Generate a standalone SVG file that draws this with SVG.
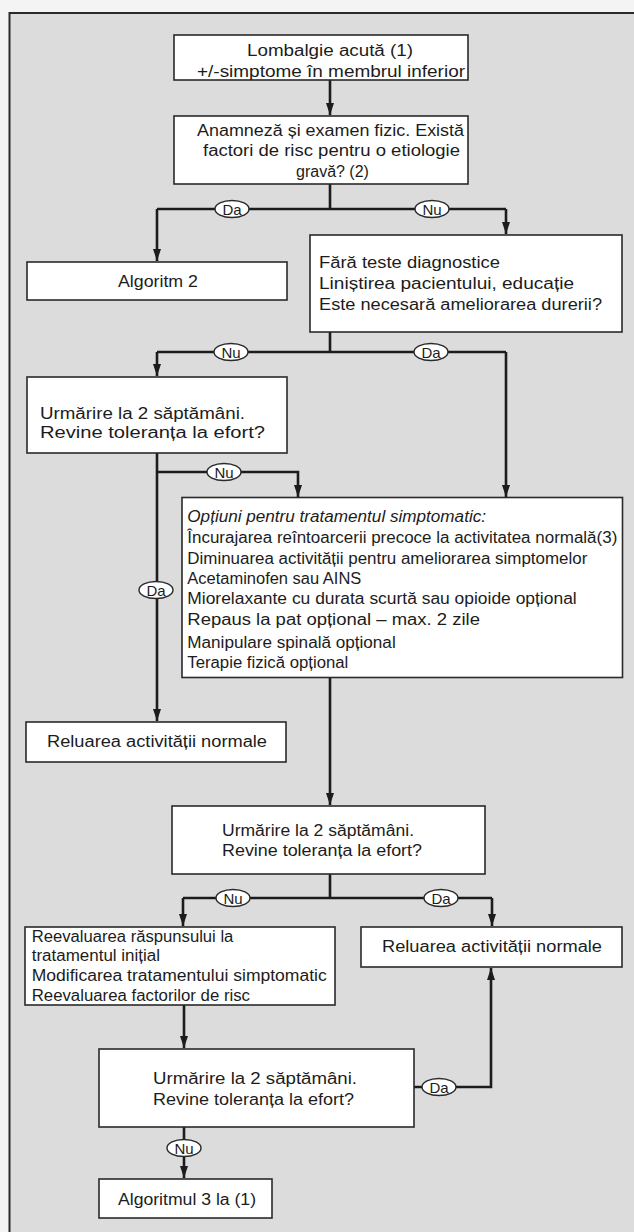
<svg xmlns="http://www.w3.org/2000/svg" width="634" height="1232" viewBox="0 0 634 1232">
  <style>
    .box { fill: #ffffff; stroke: #2a2a2a; stroke-width: 1.6; }
    .t { font-family: "Liberation Sans", Arial, sans-serif; font-size: 16px; fill: #1c1c1c; }
    .c { text-anchor: middle; }
    .it { font-style: italic; }
    .wire { fill: none; stroke: #1c1c1c; stroke-width: 2.6; }
    .lbl { fill: #ffffff; stroke: #2a2a2a; stroke-width: 1.4; }
    .lt { font-family: "Liberation Sans", Arial, sans-serif; font-size: 15px; fill: #1c1c1c; text-anchor: middle; }
  </style>
  <defs>
    <marker id="arrow" markerUnits="userSpaceOnUse" markerWidth="8" markerHeight="12" viewBox="0 0 8 12" refX="4" refY="12" orient="0">
      <path d="M0,0 L8,0 L4,12 z" fill="#1c1c1c"/>
    </marker>
    <marker id="arrowUp" markerUnits="userSpaceOnUse" markerWidth="8" markerHeight="12" viewBox="0 0 8 12" refX="4" refY="0" orient="0">
      <path d="M0,12 L8,12 L4,0 z" fill="#1c1c1c"/>
    </marker>
  </defs>

  <!-- page frame -->
  <rect x="0" y="0" width="634" height="1232" fill="#f4f4f4"/>
  <rect x="9.5" y="13" width="625" height="1220" fill="#dcdcdc"/>
  <path d="M9.5,1232 L9.5,13 L634,13" fill="none" stroke="#2a2a2a" stroke-width="2"/>

  <!-- connectors -->
  <g id="connectors">
    <path class="wire" d="M330,80 L330,115" marker-end="url(#arrow)"/>
    <path class="wire" d="M330,184 L330,209 M157,209 L506,209"/>
    <path class="wire" d="M157,209 L157,261" marker-end="url(#arrow)"/>
    <path class="wire" d="M506,209 L506,234" marker-end="url(#arrow)"/>
    <path class="wire" d="M330,332 L330,352 M157,352 L506,352"/>
    <path class="wire" d="M157,352 L157,376" marker-end="url(#arrow)"/>
    <path class="wire" d="M506,352 L506,497" marker-end="url(#arrow)"/>
    <path class="wire" d="M157,453 L157,721" marker-end="url(#arrow)"/>
    <path class="wire" d="M157,472 L298,472 L298,497" marker-end="url(#arrow)"/>
    <path class="wire" d="M330,678 L330,805" marker-end="url(#arrow)"/>
    <path class="wire" d="M330,874 L330,898 M183,898 L492,898"/>
    <path class="wire" d="M183,898 L183,926" marker-end="url(#arrow)"/>
    <path class="wire" d="M492,898 L492,926" marker-end="url(#arrow)"/>
    <path class="wire" d="M184,1005 L184,1048" marker-end="url(#arrow)"/>
    <path class="wire" d="M414,1087 L491,1087 L491,968" marker-end="url(#arrowUp)"/>
    <path class="wire" d="M184,1127 L184,1178" marker-end="url(#arrow)"/>

    <!-- branch labels -->
    <g id="lbl-da-1"><ellipse class="lbl" cx="232" cy="209" rx="17" ry="8.5"/><text class="lt" x="232" y="214.5">Da</text></g>
    <g id="lbl-nu-1"><ellipse class="lbl" cx="432" cy="209" rx="17" ry="8.5"/><text class="lt" x="432" y="214.5">Nu</text></g>
    <g id="lbl-nu-2"><ellipse class="lbl" cx="231" cy="352" rx="17" ry="8.5"/><text class="lt" x="231" y="357.5">Nu</text></g>
    <g id="lbl-da-2"><ellipse class="lbl" cx="431" cy="352" rx="17" ry="8.5"/><text class="lt" x="431" y="357.5">Da</text></g>
    <g id="lbl-nu-3"><ellipse class="lbl" cx="224" cy="472" rx="17" ry="8.5"/><text class="lt" x="224" y="477.5">Nu</text></g>
    <g id="lbl-da-3"><ellipse class="lbl" cx="156" cy="590" rx="17" ry="8.5"/><text class="lt" x="156" y="595.5">Da</text></g>
    <g id="lbl-nu-4"><ellipse class="lbl" cx="233" cy="898" rx="17" ry="8.5"/><text class="lt" x="233" y="903.5">Nu</text></g>
    <g id="lbl-da-4"><ellipse class="lbl" cx="441" cy="898" rx="17" ry="8.5"/><text class="lt" x="441" y="903.5">Da</text></g>
    <g id="lbl-da-5"><ellipse class="lbl" cx="439" cy="1087" rx="17" ry="8.5"/><text class="lt" x="439" y="1092.5">Da</text></g>
    <g id="lbl-nu-5"><ellipse class="lbl" cx="184" cy="1148" rx="17" ry="8.5"/><text class="lt" x="184" y="1153.5">Nu</text></g>
  </g>

  <g id="start">
    <rect class="box" x="174" y="35" width="294" height="45"/>
    <text class="t" x="247" y="56" textLength="166" lengthAdjust="spacingAndGlyphs">Lombalgie acută (1)</text>
    <text class="t" x="197" y="76.5" textLength="268" lengthAdjust="spacingAndGlyphs">+/-simptome în membrul inferior</text>
  </g>

  <g id="history">
    <rect class="box" x="174" y="116" width="294" height="68"/>
    <text class="t" x="197" y="135.5" textLength="267" lengthAdjust="spacingAndGlyphs">Anamneză și examen fizic. Există</text>
    <text class="t" x="203" y="156" textLength="257" lengthAdjust="spacingAndGlyphs">factori de risc pentru o etiologie</text>
    <text class="t" x="296" y="177">gravă? (2)</text>
  </g>

  <g id="algo2">
    <rect class="box" x="27" y="262" width="260" height="38"/>
    <text class="t c" x="158" y="287" textLength="80" lengthAdjust="spacingAndGlyphs">Algoritm 2</text>
  </g>

  <g id="no-tests">
    <rect class="box" x="310" y="235" width="312" height="97"/>
    <text class="t" x="319" y="268" textLength="181" lengthAdjust="spacingAndGlyphs">Fără teste diagnostice</text>
    <text class="t" x="319" y="289" textLength="255" lengthAdjust="spacingAndGlyphs">Liniștirea pacientului, educație</text>
    <text class="t" x="319" y="309.5" textLength="283" lengthAdjust="spacingAndGlyphs">Este necesară ameliorarea durerii?</text>
  </g>

  <g id="followup-1">
    <rect class="box" x="27" y="377" width="260" height="76"/>
    <text class="t" x="40" y="419" textLength="205" lengthAdjust="spacingAndGlyphs">Urmărire la 2 săptămâni.</text>
    <text class="t" x="40" y="438" textLength="225" lengthAdjust="spacingAndGlyphs">Revine toleranța la efort?</text>
  </g>

  <g id="options">
    <rect class="box" x="182" y="497.5" width="440.5" height="180"/>
    <text class="t it" x="187.3" y="522" textLength="298.7" lengthAdjust="spacingAndGlyphs">Opțiuni pentru tratamentul simptomatic:</text>
    <text class="t" x="187.3" y="543" textLength="430" lengthAdjust="spacingAndGlyphs">Încurajarea reîntoarcerii precoce la activitatea normală(3)</text>
    <text class="t" x="187.3" y="564" textLength="400" lengthAdjust="spacingAndGlyphs">Diminuarea activității pentru ameliorarea simptomelor</text>
    <text class="t" x="187.3" y="584" textLength="174" lengthAdjust="spacingAndGlyphs">Acetaminofen sau AINS</text>
    <text class="t" x="187.3" y="604" textLength="389.4" lengthAdjust="spacingAndGlyphs">Miorelaxante cu durata scurtă sau opioide opțional</text>
    <text class="t" x="187.3" y="625" textLength="292.7" lengthAdjust="spacingAndGlyphs">Repaus la pat opțional – max. 2 zile</text>
    <text class="t" x="187.3" y="647.5" textLength="208.4" lengthAdjust="spacingAndGlyphs">Manipulare spinală opțional</text>
    <text class="t" x="187.3" y="667.5" textLength="161" lengthAdjust="spacingAndGlyphs">Terapie fizică opțional</text>
  </g>

  <g id="resume-1">
    <rect class="box" x="26" y="722" width="260" height="40"/>
    <text class="t c" x="157" y="747" textLength="220" lengthAdjust="spacingAndGlyphs">Reluarea activității normale</text>
  </g>

  <g id="followup-2">
    <rect class="box" x="172" y="806" width="313" height="68"/>
    <text class="t" x="222" y="836" textLength="192" lengthAdjust="spacingAndGlyphs">Urmărire la 2 săptămâni.</text>
    <text class="t" x="222" y="856" textLength="200" lengthAdjust="spacingAndGlyphs">Revine toleranța la efort?</text>
  </g>

  <g id="reassess">
    <rect class="box" x="25" y="927" width="310" height="78"/>
    <text class="t" x="31.7" y="941.5" textLength="201.7" lengthAdjust="spacingAndGlyphs">Reevaluarea răspunsului la</text>
    <text class="t" x="31.7" y="960.5" textLength="128.3" lengthAdjust="spacingAndGlyphs">tratamentul inițial</text>
    <text class="t" x="31.7" y="980.5" textLength="295" lengthAdjust="spacingAndGlyphs">Modificarea tratamentului simptomatic</text>
    <text class="t" x="31.7" y="1000.5" textLength="218.3" lengthAdjust="spacingAndGlyphs">Reevaluarea factorilor de risc</text>
  </g>

  <g id="resume-2">
    <rect class="box" x="361" y="927" width="261" height="40"/>
    <text class="t c" x="492" y="952" textLength="220" lengthAdjust="spacingAndGlyphs">Reluarea activității normale</text>
  </g>

  <g id="followup-3">
    <rect class="box" x="99" y="1049" width="315" height="78"/>
    <text class="t" x="153" y="1084" textLength="204" lengthAdjust="spacingAndGlyphs">Urmărire la 2 săptămâni.</text>
    <text class="t" x="153" y="1105" textLength="201" lengthAdjust="spacingAndGlyphs">Revine toleranța la efort?</text>
  </g>

  <g id="algo3">
    <rect class="box" x="99" y="1179" width="173" height="39"/>
    <text class="t c" x="187" y="1205" textLength="138" lengthAdjust="spacingAndGlyphs">Algoritmul 3 la (1)</text>
  </g>
</svg>
